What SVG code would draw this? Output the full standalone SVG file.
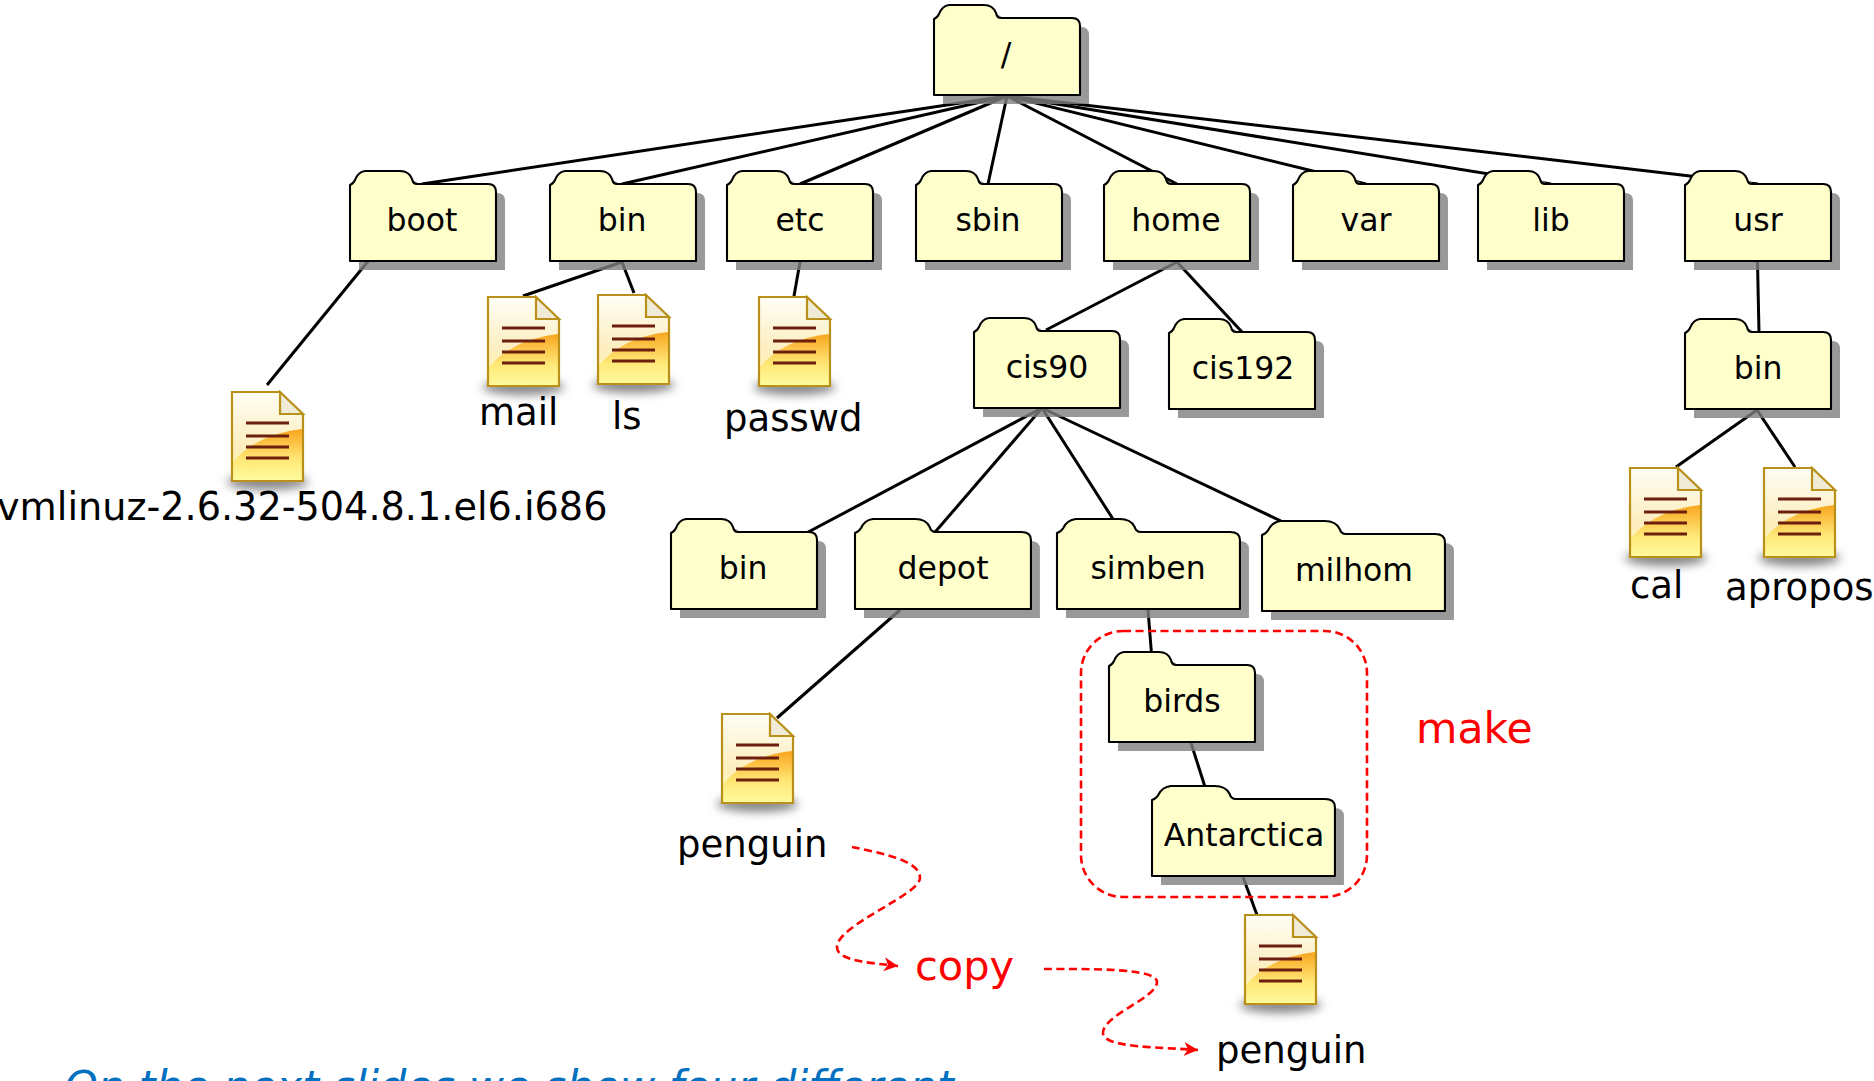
<svg xmlns="http://www.w3.org/2000/svg" width="1874" height="1081" viewBox="0 0 1874 1081">
<style>
text{font-family:"DejaVu Sans",Verdana,sans-serif;fill:#000}
.fl{font-size:31.5px;text-anchor:middle}
.lb{font-size:37px}
.red{font-size:42.5px;fill:#f00}
.note{font-size:43px;font-style:italic;fill:#0070c0}
.c line{stroke:#000;stroke-width:3;stroke-linecap:butt}
.dash{fill:none;stroke:#f00;stroke-width:2.6;stroke-dasharray:8 4.5}
.sh{fill:#808080;fill-opacity:.8}
.f{fill:#ffffcc;stroke:#000;stroke-width:2.1}
</style>
<defs>
<path id="folder" vector-effect="non-scaling-stroke" stroke-linejoin="round" d="M0,14 Q3,13 5,9 Q8,1 15,0 H50 Q59,0 62,8 Q63,13 67,13 H138 Q146,13 146,21 V90 H0 Z"/>
<linearGradient id="pg" x1="0" y1="0" x2="0" y2="1"><stop offset="0" stop-color="#fffef6"/><stop offset=".6" stop-color="#fdeebf"/><stop offset="1" stop-color="#fff8b0"/></linearGradient>
<linearGradient id="gl" x1="0" y1="0" x2="0" y2="1"><stop offset="0" stop-color="#f9a51e"/><stop offset=".6" stop-color="#ffe877"/><stop offset="1" stop-color="#fffa9c"/></linearGradient>
<filter id="blur" x="-30%" y="-150%" width="160%" height="400%"><feGaussianBlur stdDeviation="5"/></filter>
<g id="file">
<ellipse cx="35.500" cy="90" rx="41" ry="8" fill="#888" filter="url(#blur)"/>
<path d="M0,0 H48 L71,23 V89 H0 Z" fill="url(#pg)"/>
<path d="M1,70 Q25,42 70,37 V88 H1 Z" fill="url(#gl)"/>
<path d="M0,0 H48 L71,23 V89 H0 Z" fill="none" stroke="#b8901a" stroke-width="2.200"/>
<path d="M48,0 V22 H71 Z" fill="#efebd6" stroke="#b8901a" stroke-width="2.200"/>
<path d="M14,31 H57 M14,44 H57 M14,55 H57 M14,66 H57" stroke="#6b1f0c" stroke-width="3" fill="none"/>
</g>
<marker id="arr" markerUnits="userSpaceOnUse" markerWidth="16" markerHeight="16" refX="14" refY="8" orient="auto"><path d="M0,1 L14,8 L0,15 L4,8 Z" fill="#f00"/></marker>
</defs>

<g id="connectors" class="c">
<line x1="1007" y1="96" x2="422" y2="184"/>
<line x1="1007" y1="96" x2="622" y2="184"/>
<line x1="1007" y1="96" x2="800" y2="184"/>
<line x1="1007" y1="96" x2="988" y2="184"/>
<line x1="1007" y1="96" x2="1177" y2="184"/>
<line x1="1007" y1="96" x2="1366" y2="184"/>
<line x1="1007" y1="96" x2="1551" y2="184"/>
<line x1="1007" y1="96" x2="1758" y2="184"/>
<line x1="369" y1="260" x2="267" y2="385"/>
<line x1="622" y1="262" x2="523" y2="296"/>
<line x1="622" y1="262" x2="634" y2="293"/>
<line x1="800" y1="262" x2="794" y2="296"/>
<line x1="1177" y1="262" x2="1046" y2="330"/>
<line x1="1177" y1="262" x2="1242" y2="332"/>
<line x1="1757.500" y1="262" x2="1759" y2="333"/>
<line x1="1757" y1="410" x2="1676" y2="467"/>
<line x1="1757" y1="410" x2="1795" y2="467"/>
<line x1="1042" y1="408" x2="780" y2="547"/>
<line x1="1042" y1="408" x2="930" y2="538"/>
<line x1="1042" y1="408" x2="1120" y2="530"/>
<line x1="1042" y1="408" x2="1300" y2="530"/>
<line x1="900" y1="610" x2="777" y2="718"/>
<line x1="1148" y1="610" x2="1152" y2="660"/>
<line x1="1191" y1="743" x2="1206" y2="790"/>
<line x1="1243" y1="877" x2="1257" y2="915"/>
</g>

<g id="node-root" transform="translate(934,5)"><use href="#folder" class="sh" x="9" y="9"/><use href="#folder" class="f"/><text class="fl" x="72" y="60">/</text></g>
<g id="node-boot" transform="translate(350,171)"><use href="#folder" class="sh" x="9" y="9"/><use href="#folder" class="f"/><text class="fl" x="72" y="60">boot</text></g>
<g id="node-bin" transform="translate(550,171)"><use href="#folder" class="sh" x="9" y="9"/><use href="#folder" class="f"/><text class="fl" x="72" y="60">bin</text></g>
<g id="node-etc" transform="translate(727,171)"><use href="#folder" class="sh" x="9" y="9"/><use href="#folder" class="f"/><text class="fl" x="73" y="60">etc</text></g>
<g id="node-sbin" transform="translate(916,171)"><use href="#folder" class="sh" x="9" y="9"/><use href="#folder" class="f"/><text class="fl" x="72" y="60">sbin</text></g>
<g id="node-home" transform="translate(1104,171)"><use href="#folder" class="sh" x="9" y="9"/><use href="#folder" class="f"/><text class="fl" x="72" y="60">home</text></g>
<g id="node-var" transform="translate(1293,171)"><use href="#folder" class="sh" x="9" y="9"/><use href="#folder" class="f"/><text class="fl" x="73" y="60">var</text></g>
<g id="node-lib" transform="translate(1478,171)"><use href="#folder" class="sh" x="9" y="9"/><use href="#folder" class="f"/><text class="fl" x="73" y="60">lib</text></g>
<g id="node-usr" transform="translate(1685,171)"><use href="#folder" class="sh" x="9" y="9"/><use href="#folder" class="f"/><text class="fl" x="73" y="60">usr</text></g>
<g id="node-cis90" transform="translate(974,318)"><use href="#folder" class="sh" x="9" y="9"/><use href="#folder" class="f"/><text class="fl" x="73" y="60">cis90</text></g>
<g id="node-cis192" transform="translate(1169,319)"><use href="#folder" class="sh" x="9" y="9"/><use href="#folder" class="f"/><text class="fl" x="74" y="60">cis192</text></g>
<g id="node-usr-bin" transform="translate(1685,319)"><use href="#folder" class="sh" x="9" y="9"/><use href="#folder" class="f"/><text class="fl" x="73" y="60">bin</text></g>
<g id="node-cis90-bin" transform="translate(671,519)"><use href="#folder" class="sh" x="9" y="9"/><use href="#folder" class="f"/><text class="fl" x="72" y="60">bin</text></g>
<g id="node-depot" transform="translate(855,519)"><use href="#folder" class="sh" transform="translate(9,9) scale(1.205,1)"/><use href="#folder" class="f" transform="scale(1.205,1)"/><text class="fl" x="88" y="60">depot</text></g>
<g id="node-simben" transform="translate(1057,519)"><use href="#folder" class="sh" transform="translate(9,9) scale(1.253,1)"/><use href="#folder" class="f" transform="scale(1.253,1)"/><text class="fl" x="91" y="60">simben</text></g>
<g id="node-milhom" transform="translate(1262,521)"><use href="#folder" class="sh" transform="translate(9,9) scale(1.253,1)"/><use href="#folder" class="f" transform="scale(1.253,1)"/><text class="fl" x="92" y="60">milhom</text></g>
<g id="node-birds" transform="translate(1109,652)"><use href="#folder" class="sh" x="9" y="9"/><use href="#folder" class="f"/><text class="fl" x="73" y="60">birds</text></g>
<g id="node-antarctica" transform="translate(1152,786)"><use href="#folder" class="sh" transform="translate(9,9) scale(1.253,1)"/><use href="#folder" class="f" transform="scale(1.253,1)"/><text class="fl" x="92" y="60">Antarctica</text></g>

<g id="file-vmlinuz"><use href="#file" x="232" y="392"/><text class="lb" x="-3" y="520" style="font-size:38.2px">vmlinuz-2.6.32-504.8.1.el6.i686</text></g>
<g id="file-mail"><use href="#file" x="488" y="297"/><text class="lb" x="479" y="425">mail</text></g>
<g id="file-ls"><use href="#file" x="598" y="295"/><text class="lb" x="612" y="429">ls</text></g>
<g id="file-passwd"><use href="#file" x="759" y="297"/><text class="lb" x="724" y="431">passwd</text></g>
<g id="file-cal"><use href="#file" x="1630" y="468"/><text class="lb" x="1630" y="598">cal</text></g>
<g id="file-apropos"><use href="#file" x="1764" y="468"/><text class="lb" x="1725" y="600">apropos</text></g>
<g id="file-penguin1"><use href="#file" x="722" y="714"/><text class="lb" x="677" y="857">penguin</text></g>
<g id="file-penguin2"><use href="#file" x="1245" y="915"/><text class="lb" x="1216" y="1063">penguin</text></g>

<rect id="make-box" class="dash" x="1081" y="631" width="286" height="266" rx="42" ry="42"/>
<text class="red" x="1416" y="743">make</text>
<text class="red" x="915" y="980" style="font-size:41.5px">copy</text>
<path class="dash" marker-end="url(#arr)" d="M852,847 C880,853 920,860 920,878 C920,895 837,925 837,947 C837,962 875,963 898,966"/>
<path class="dash" marker-end="url(#arr)" d="M1044,969 C1090,969 1157,968 1157,982 C1157,998 1103,1015 1103,1033 C1103,1048 1160,1047 1198,1050"/>
<text class="note" x="64" y="1101">On the next slides we show four different</text>
</svg>
